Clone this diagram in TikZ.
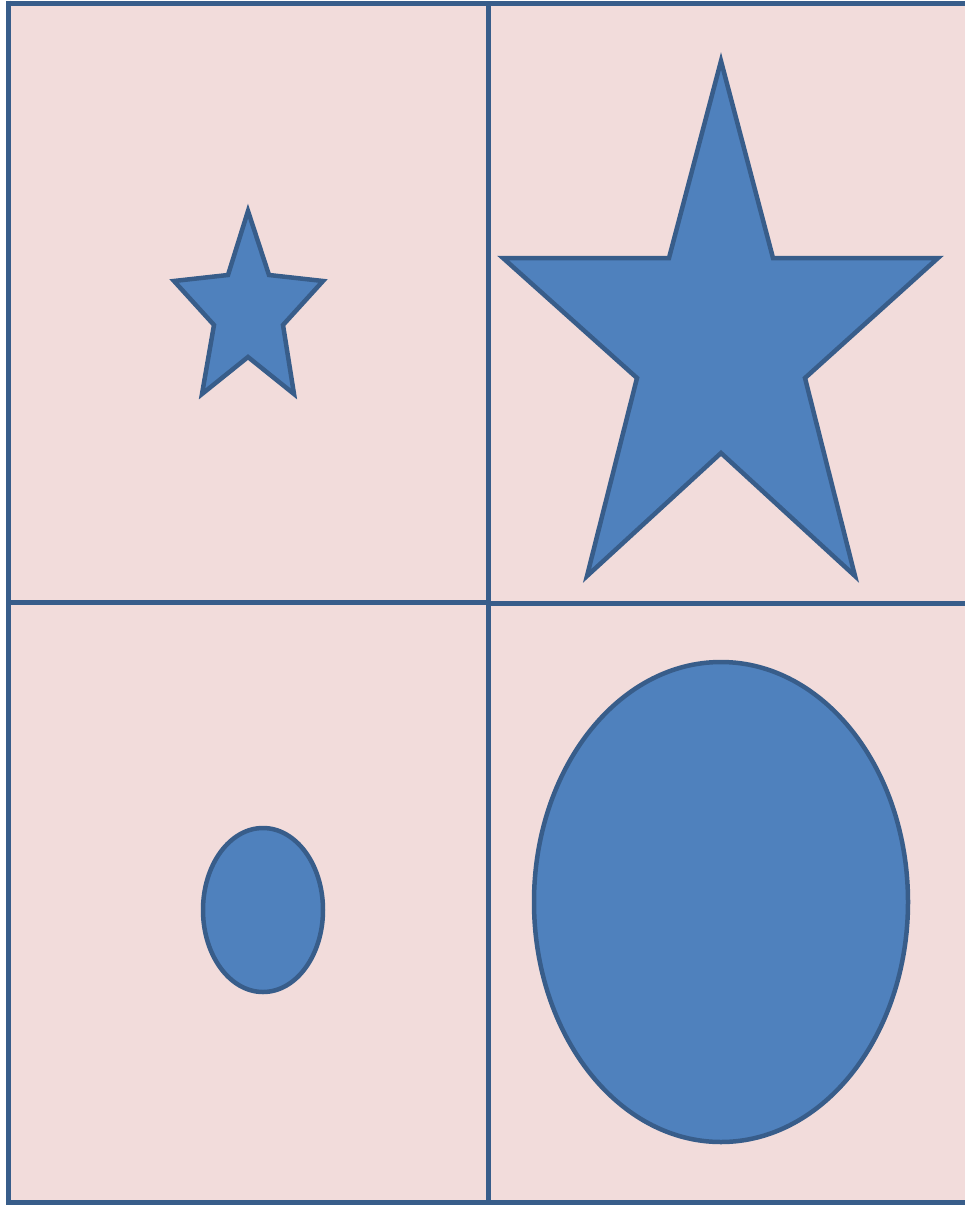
\documentclass[tikz,border=0pt]{standalone}
\definecolor{bgpink}{HTML}{F2DCDB}
\definecolor{fillblue}{HTML}{4F81BD}
\definecolor{edgeblue}{HTML}{385D8A}
\tikzset{
  gridline/.style={draw=edgeblue, line width=5pt},
  shapefill/.style={fill=fillblue, draw=edgeblue, line width=4.5pt, line join=miter},
}
\begin{document}
\begin{tikzpicture}[x=1pt,y=-1pt]
\useasboundingbox (0,0) rectangle (965,1205);
\fill[white] (0,0) rectangle (965,1205);
\fill[bgpink] (8.5,3) rectangle (965,1202);
% grid
\draw[gridline] (8.5,3) -- (965,3);
\draw[gridline] (8.5,0.5) -- (8.5,1204.5);
\draw[gridline] (8.5,1202) -- (965,1202);
\draw[gridline] (488.5,3) -- (488.5,1202);
\draw[gridline] (8.5,602.5) -- (488.5,602.5);
\draw[gridline] (488.5,603) -- (965,603);
% small star
\path[shapefill] (248,211) -- (269,275) -- (323,281) -- (283,325) -- (294,394)
  -- (248,357) -- (202,394) -- (214,325) -- (174,281) -- (228,275) -- cycle;
% big star
\path[shapefill] (721,61) -- (773,258) -- (938,258) -- (805,378) -- (855,576)
  -- (721,453) -- (587,576) -- (637,378) -- (503,258) -- (669,258) -- cycle;
% ellipses
\path[shapefill] (263,910) ellipse [x radius=60, y radius=82];
\path[shapefill] (721,902) ellipse [x radius=187, y radius=240];
\end{tikzpicture}
\end{document}
